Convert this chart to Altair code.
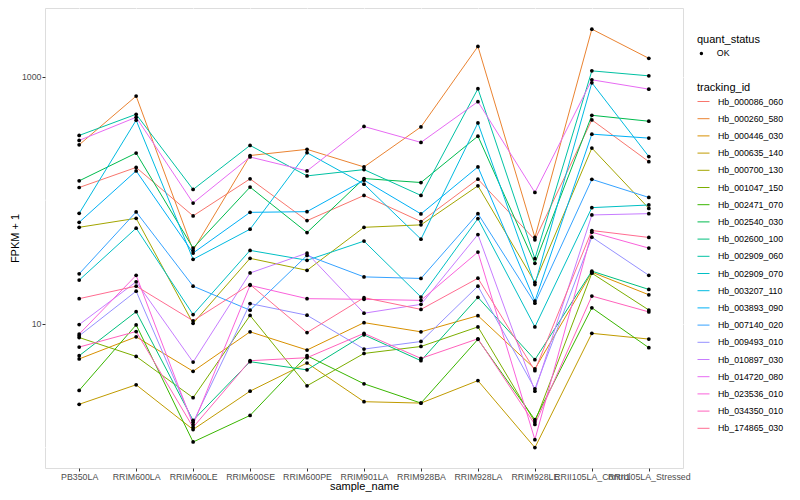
import altair as alt
import pandas as pd

samples = ["PB350LA", "RRIM600LA", "RRIM600LE", "RRIM600SE", "RRIM600PE",
           "RRIM901LA", "RRIM928BA", "RRIM928LA", "RRIM928LE",
           "RRII105LA_Control", "RRII105LA_Stressed"]

tracking_ids = ["Hb_000086_060", "Hb_000260_580", "Hb_000446_030", "Hb_000635_140",
                "Hb_000700_130", "Hb_001047_150", "Hb_002471_070", "Hb_002540_030",
                "Hb_002600_100", "Hb_002909_060", "Hb_002909_070", "Hb_003207_110",
                "Hb_003893_090", "Hb_007140_020", "Hb_009493_010", "Hb_010897_030",
                "Hb_014720_080", "Hb_023536_010", "Hb_034350_010", "Hb_174865_030"]

colors = ["#F8766D", "#EA8331", "#D89000", "#C09B00", "#A3A500", "#7CAE00", "#39B600",
          "#00BB4E", "#00BF7D", "#00C1A3", "#00BFC4", "#00BAE0", "#00B0F6", "#35A2FF",
          "#9590FF", "#C77CFF", "#E76BF3", "#FA62DB", "#FF62BC", "#FF6C91"]

# FPKM + 1 per sample (same order as samples)
Hb_000086_060 = [126.7, 184.1, 74.7, 148.8, 68.4, 109.3, 67.2, 148.0, 47.9, 445.7, 204.9]
Hb_000260_580 = [280.6, 694.8, 39.3, 229.8, 257.8, 185.8, 391.5, 1751, 50.0, 2416, 1403]
Hb_000446_030 = [5.21, 7.86, 4.14, 8.63, 6.15, 10.24, 8.63, 11.66, 4.33, 26.2, 17.2]
Hb_000635_140 = [2.24, 3.22, 1.40, 2.86, 4.83, 2.35, 2.29, 3.48, 1.00, 8.39, 7.54]
Hb_000700_130 = [60.4, 71.4, 10.1, 33.9, 27.1, 60.4, 63.2, 130.8, 21.7, 264.1, 85.9]
Hb_001047_150 = [7.76, 5.46, 2.53, 11.7, 3.16, 5.77, 6.57, 9.46, 1.61, 25.7, 12.95]
Hb_002471_070 = [2.90, 9.82, 1.11, 1.82, 5.53, 3.28, 2.29, 7.51, 1.68, 13.5, 6.42]
Hb_002540_030 = [143.4, 240.7, 41.0, 127.6, 54.8, 149.7, 139.0, 329.7, 30.9, 486.0, 435.1]
Hb_002600_100 = [5.53, 12.55, 1.66, 4.95, 4.25, 8.16, 5.04, 16.4, 5.14, 26.7, 19.0]
Hb_002909_060 = [334.0, 495.2, 122.1, 277.5, 157.3, 176.8, 109.3, 796.6, 33.7, 1111, 1013]
Hb_002909_070 = [22.6, 59.4, 11.9, 39.3, 32.7, 46.7, 16.5, 71.0, 9.46, 87.1, 91.5]
Hb_003207_110 = [78.3, 443.2, 33.3, 58.3, 242.0, 134.9, 48.4, 421.6, 20.8, 889.9, 225.6]
Hb_003893_090 = [66.3, 172.6, 37.4, 79.8, 80.8, 145.3, 77.5, 185.8, 15.3, 342.1, 317.7]
Hb_007140_020 = [25.4, 80.4, 20.2, 12.9, 35.8, 24.0, 23.3, 77.9, 14.7, 147.5, 105.3]
Hb_009493_010 = [8.01, 18.4, 1.60, 14.6, 11.75, 6.26, 7.21, 20.2, 2.99, 50.3, 24.7]
Hb_010897_030 = [9.87, 21.9, 4.91, 25.8, 37.4, 12.2, 14.4, 52.8, 2.86, 76.0, 77.9]
Hb_014720_080 = [304.4, 468.5, 94.9, 223.6, 172.6, 394.5, 293.4, 626.3, 115.5, 940.8, 790.7]
Hb_023536_010 = [8.27, 24.7, 1.53, 20.5, 16.0, 15.8, 15.5, 38.1, 1.16, 55.1, 41.0]
Hb_034350_010 = [6.50, 8.68, 1.46, 5.04, 5.33, 8.39, 5.26, 7.58, 1.54, 16.8, 12.5]
Hb_174865_030 = [16.0, 20.2, 10.6, 20.8, 8.51, 16.3, 13.1, 23.4, 4.19, 56.9, 50.0]

series = [Hb_000086_060, Hb_000260_580, Hb_000446_030, Hb_000635_140, Hb_000700_130,
          Hb_001047_150, Hb_002471_070, Hb_002540_030, Hb_002600_100, Hb_002909_060,
          Hb_002909_070, Hb_003207_110, Hb_003893_090, Hb_007140_020, Hb_009493_010,
          Hb_010897_030, Hb_014720_080, Hb_023536_010, Hb_034350_010, Hb_174865_030]

minor_breaks = [1, 100]

rows = []
for tid, vals in zip(tracking_ids, series):
    for s, v in zip(samples, vals):
        rows.append({"tracking_id": tid, "sample_name": s, "fpkm": v, "quant_status": "OK"})
df = pd.DataFrame(rows)

FONT = "Liberation Sans"

x_enc = alt.X("sample_name:N", sort=samples,
              scale=alt.Scale(type="point", padding=0.6),
              axis=alt.Axis(title="sample_name", labelAngle=0, grid=True, gridColor="white",
                            gridWidth=1.1, domain=False, tickColor="#333333", tickSize=3,
                            labelColor="#4D4D4D", labelFontSize=8.8, labelPadding=1,
                            labelOverlap=False, titleFontSize=11, titleColor="black",
                            titleFontWeight="normal", titlePadding=0))
y_enc = alt.Y("fpkm:Q",
              scale=alt.Scale(type="log", domain=[0.684, 3581], nice=False),
              axis=alt.Axis(title="FPKM + 1", values=[10, 1000], format="d", grid=True,
                            gridColor="white", gridWidth=1.1, domain=False,
                            tickColor="#333333", tickSize=3, labelColor="#4D4D4D",
                            labelFontSize=8.8, labelPadding=1, titleFontSize=11,
                            titleColor="black", titleFontWeight="normal", titlePadding=1))

minor = alt.Chart(pd.DataFrame({"fpkm": minor_breaks})).mark_rule(
    color="white", strokeWidth=0.55).encode(y=y_enc)

lines = alt.Chart(df).mark_line(strokeWidth=1).encode(
    x=x_enc, y=y_enc,
    color=alt.Color("tracking_id:N",
                    scale=alt.Scale(domain=tracking_ids, range=colors),
                    legend=alt.Legend(title="tracking_id", orient="none", legendX=652,
                                      legendY=74, symbolType="stroke", symbolSize=144,
                                      symbolStrokeWidth=1, labelFontSize=8.8,
                                      labelColor="black", titleFontSize=11,
                                      titleColor="black", titleFontWeight="normal",
                                      rowPadding=5.2, titlePadding=2, labelOffset=8)))

points = alt.Chart(df).mark_point(filled=True, size=14, color="black", opacity=1).encode(
    x=x_enc, y=y_enc,
    shape=alt.Shape("quant_status:N", scale=alt.Scale(range=["circle"]),
                    legend=alt.Legend(title="quant_status", orient="none", legendX=652,
                                      legendY=26, symbolSize=12, symbolFillColor="black",
                                      symbolStrokeColor="black", labelFontSize=8.8,
                                      labelColor="black", titleFontSize=11,
                                      titleColor="black", titleFontWeight="normal",
                                      titlePadding=4, labelOffset=11)))

chart = alt.layer(minor, lines, points).properties(
    width=638, height=460,
    autosize=alt.AutoSizeParams(type="none"),
    padding={"left": 37, "top": 0, "right": 109, "bottom": 24},
    background="white",
).configure_view(fill="#EBEBEB", stroke="transparent", strokeWidth=0).configure(font=FONT)

chart.save("out.html", embed_options={"renderer": "svg", "actions": False})
